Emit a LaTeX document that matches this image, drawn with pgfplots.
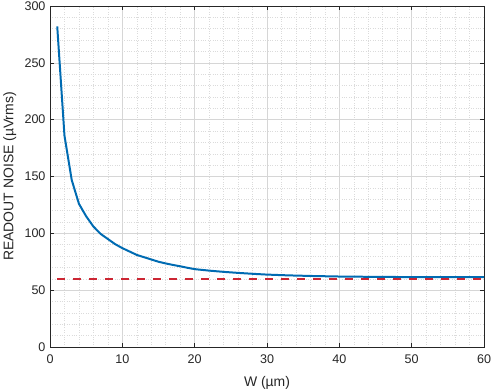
\documentclass[border=0pt]{standalone}
\usepackage{fontspec}
\setmainfont{Liberation Sans}
\usepackage{pgfplots}
\pgfplotsset{compat=1.18}
\definecolor{mblue}{rgb}{0,0.42,0.70}
\definecolor{mred}{rgb}{0.80,0.15,0.20}
\definecolor{axgray}{rgb}{0.15,0.15,0.15}
\begin{document}
\begin{tikzpicture}
\useasboundingbox (0,0) rectangle (495bp,391bp);
\begin{axis}[
  at={(50bp,44bp)}, anchor=south west,
  width=434bp, height=341bp, scale only axis,
  xmin=0, xmax=60, ymin=0, ymax=300,
  xtick={0,10,...,60}, ytick={0,50,...,300},
  minor xtick={2,4,...,58}, minor ytick={10,20,...,290},
  grid=both,
  major grid style={color=black!16, line width=0.5pt},
  minor grid style={color=black!14, dotted, line width=0.5pt},
  axis line style={color=axgray, line width=0.6pt},
  tick style={color=axgray, line width=0.5pt},
  major tick length=4bp, minor tick length=0pt,
  tick align=inside,
  ticklabel style={font=\fontsize{12.6}{14}\selectfont, color=axgray},
  xticklabel style={yshift=-4bp},
  yticklabel style={xshift=-1bp},
  /pgf/number format/assume math mode=true,
  xlabel={W (µm)}, ylabel={READOUT NOISE (µVrms)},
  label style={font=\fontsize{14}{16}\selectfont, color=axgray, inner sep=0pt},
  xlabel style={at={(axis description cs:0.5,0)}, anchor=north, yshift=-29bp},
  ylabel style={at={(axis description cs:0,0.5)}, anchor=north, yshift=47bp},
  clip=true,
]
\addplot[color=mblue, line width=2pt] coordinates {
(1,282) (2,186) (3,147) (4,126) (5,115) (6,106) (7,99.5) (8,95) (9,90.5) (10,87)
(11,84) (12,81) (13,79) (14,77) (15,75) (16,73.5) (17,72.2) (18,71) (19,69.7) (20,68.5)
(22,67.2) (24,66.1) (26,65.2) (28,64.4) (30,63.7) (33,63) (36,62.5) (40,62) (45,61.7) (50,61.5) (55,61.4) (60,61.4)
};
\addplot[color=mred, line width=2.5pt, dash pattern=on 8bp off 8bp] coordinates {(1,60) (60,60)};
\end{axis}
\end{tikzpicture}
\end{document}
